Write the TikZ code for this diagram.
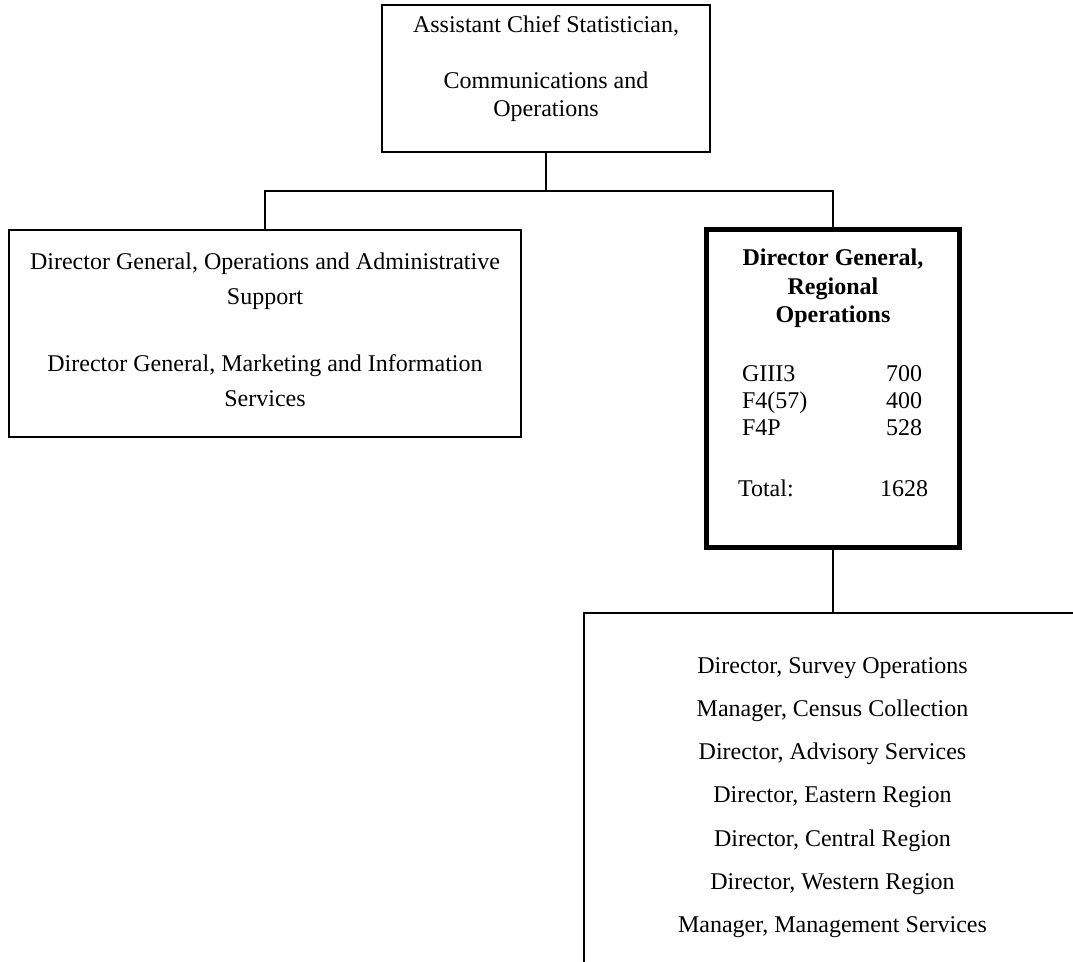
\documentclass[tikz,border=0pt]{standalone}
\usepackage{fontspec}
\setmainfont{Liberation Serif}

\begin{document}
\begin{tikzpicture}[
  x=0.5pt, y=-0.5pt,
  box/.style={draw, line width=1pt, inner sep=0pt, outer sep=0pt},
  heavy/.style={box, line width=2.5pt},
  txt/.style={align=center, inner sep=0pt, font=\fontsize{12}{14}\selectfont},
  link/.style={line width=1pt},
]
\clip (0,0) rectangle (1073,962);

\node[box, minimum width=164pt, minimum height=73.5pt]   (acs)  at (546,78.2)    {};
\node[box, minimum width=256pt, minimum height=103.5pt]  (dgoa) at (265,333.5)   {};
\node[heavy, minimum width=126.2pt, minimum height=159pt](dgro) at (832.8,389)   {};
\node[box, anchor=north west, minimum width=300pt, minimum height=200pt] (rso) at (584.3,613.3) {};

\node[txt] (acst) at (546,69) {Assistant Chief Statistician,\\[14pt] Communications and\\ Operations};
\node[txt, font=\fontsize{12}{17.5}\selectfont] (dgoat) at (265,330)
  {Director General, Operations and Administrative\\ Support\\[16pt]
   Director General, Marketing and Information\\ Services};
\node[txt, font=\bfseries\fontsize{12}{14.25}\selectfont] (dgrot) at (833,288.5)
  {Director General,\\ Regional\\ Operations};
\node[txt, font=\fontsize{12}{13.5}\selectfont] (dgrol) at (832,400.5)
  {\makebox[90pt]{GIII3\hfill 700}\\ \makebox[90pt]{F4(57)\hfill 400}\\ \makebox[90pt]{F4P\hfill 528}};
\node[txt] (dgrosum) at (833,488) {\makebox[95pt]{Total:\hfill 1628}};
\node[txt, font=\fontsize{12}{21.6}\selectfont] (rsot) at (832.5,797.5)
  {Director, Survey Operations\\ Manager, Census Collection\\ Director, Advisory Services\\
   Director, Eastern Region\\ Director, Central Region\\ Director, Western Region\\
   Manager, Management Services};

\coordinate (fork) at (546,190.7);
\draw[link] (acs.south) -- (fork);
\draw[link] (dgoa.north) |- (fork) -| (dgro.north);
\draw[link] (dgro.south) -- (dgro.south |- rso.north);
\end{tikzpicture}
\end{document}
